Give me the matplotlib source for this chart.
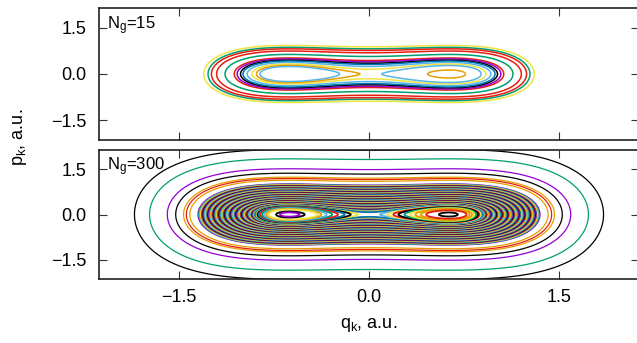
import numpy as np
import matplotlib
matplotlib.use("Agg")
import matplotlib.pyplot as plt

plt.rcParams['font.family'] = ['Liberation Sans', 'DejaVu Sans']
plt.rcParams['mathtext.fontset'] = 'custom'
plt.rcParams['mathtext.rm'] = 'Liberation Sans'
plt.rcParams['mathtext.it'] = 'Liberation Sans:italic'
plt.rcParams['contour.negative_linestyle'] = 'solid'

# gnuplot default line colours
PURPLE, TEAL, LBLUE, ORANGE = '#9400D3', '#009E73', '#56B4E9', '#E69F00'
YELLOW, BLUE, RED, BLACK = '#F0E442', '#0072B2', '#E51E10', '#000000'
CYCLE = [PURPLE, TEAL, LBLUE, ORANGE, YELLOW, BLUE, RED, BLACK]

# double-well model: minima at +-Q0, quartic strength B
Q0 = 0.63
B = 0.25

# ---- top panel, N_g = 15 (energy, colour, region) ----
top_energy = [0.385, 0.330, 0.290, 0.235, 0.160, 0.095, 0.078, 0.060,
              0.048, 0.030, 0.012, -0.001, -0.010, -0.002, -0.031]
top_color = [YELLOW, TEAL, RED, RED, TEAL, RED, PURPLE, BLACK,
             BLUE, LBLUE, YELLOW, ORANGE, LBLUE, LBLUE, ORANGE]
top_side = ['both', 'both', 'both', 'both', 'both', 'both', 'both', 'both',
            'both', 'both', 'both', 'L', 'L', 'R', 'R']

# ---- bottom panel, N_g = 300 ----
outer_energy = [2.25, 1.65, 1.10, 0.89, 0.72, 0.665, 0.60]
outer_color = [BLACK, TEAL, PURPLE, BLACK, ORANGE, RED, ORANGE]

band_energy = [0.462, 0.450, 0.441, 0.430, 0.422, 0.411, 0.404, 0.393,
               0.386, 0.376, 0.368, 0.359, 0.352, 0.342, 0.335, 0.327,
               0.320, 0.311, 0.303, 0.296, 0.288, 0.280, 0.273, 0.266,
               0.258, 0.251, 0.244, 0.237, 0.231, 0.224, 0.217, 0.210,
               0.204, 0.198, 0.191, 0.185, 0.179, 0.173, 0.167, 0.162,
               0.156, 0.150, 0.145, 0.140, 0.134, 0.129, 0.124, 0.119,
               0.114, 0.110, 0.105, 0.100, 0.096, 0.092, 0.087, 0.083,
               0.079, 0.075, 0.071, 0.068, 0.064, 0.060, 0.057, 0.054,
               0.050, 0.047, 0.044, 0.041, 0.038, 0.035, 0.032, 0.029,
               0.027, 0.024, 0.022, 0.020, 0.017, 0.015, 0.013, 0.011,
               0.0095, 0.008, 0.0065, 0.005, 0.0038, 0.003]

well_left_energy = [-0.0015, -0.004, -0.007, -0.011, -0.015, -0.019,
                    -0.023, -0.026, -0.0345, -0.037]
well_left_color = [YELLOW, BLACK, BLUE, RED, TEAL, LBLUE,
                   ORANGE, YELLOW, BLACK, PURPLE]
well_right_energy = [-0.0015, -0.004, -0.007, -0.010, -0.014, -0.018,
                     -0.022, -0.026, -0.030, -0.0372]
well_right_color = [LBLUE, YELLOW, RED, BLACK, TEAL, YELLOW,
                    ORANGE, ORANGE, RED, BLACK]

q = np.linspace(-2.3, 2.3, 1400)
p = np.linspace(-2.4, 2.4, 1100)
Q, P = np.meshgrid(q, p)
V = B * (Q**2 - Q0**2)**2 - B * Q0**4
H = 0.5 * P**2 + V
H_L = np.where(Q < 0, H, 10.0)
H_R = np.where(Q > 0, H, 10.0)
grids = {'both': H, 'L': H_L, 'R': H_R}

fig = plt.figure(figsize=(6.37, 3.43), dpi=100)
W, Hh = 637.0, 343.0
ax1 = fig.add_axes([99 / W, 1 - 140 / Hh, 540 / W, 132 / Hh])
ax2 = fig.add_axes([99 / W, 1 - 279 / Hh, 540 / W, 129 / Hh])


def draw(ax, grid, e, c, lw):
    ax.contour(Q, P, grid, levels=[e], colors=[c], linewidths=lw,
               linestyles='solid')


for e, c, s in zip(top_energy, top_color, top_side):
    draw(ax1, grids[s], e, c, 1.1)

for e, c in zip(outer_energy, outer_color):
    draw(ax2, H, e, c, 0.9)
for i, e in enumerate(band_energy):
    draw(ax2, H, e, CYCLE[i % 8], 1.3)
for e, c in zip(well_left_energy, well_left_color):
    draw(ax2, H_L, e, c, 1.3)
for e, c in zip(well_right_energy, well_right_color):
    draw(ax2, H_R, e, c, 1.3)

ticks = [-1.5, 0.0, 1.5]
labels = ['\u22121.5', '0.0', '1.5']
for ax in (ax1, ax2):
    ax.set_xlim(-2.13, 2.13)
    ax.set_ylim(-2.13, 2.13)
    ax.set_xticks(ticks)
    ax.set_yticks(ticks)
    ax.set_yticklabels(labels)
    ax.tick_params(direction='in', length=5.5, width=0.8, top=True, right=True,
                   labelsize=13, pad=9, colors='#333333', labelcolor='black')
    for sp in ax.spines.values():
        sp.set_linewidth(1.2)
        sp.set_color('#222222')
ax1.set_xticklabels([])
ax2.set_xticklabels(labels)
ax2.tick_params(axis='x', pad=7)

ax1.text(107 / W, 1 - 29 / Hh, r'N$_{\rm g}$=15', transform=fig.transFigure,
         fontsize=12, va='baseline', ha='left')
ax2.text(107 / W, 1 - 170 / Hh, r'N$_{\rm g}$=300', transform=fig.transFigure,
         fontsize=12, va='baseline', ha='left')

fig.text(20 / W, 1 - 137 / Hh, r'p$_{\rm k}$, a.u.', rotation=90,
         ha='center', va='center', fontsize=13)
fig.text(369 / W, 1 - 325 / Hh, r'q$_{\rm k}$, a.u.', ha='center',
         va='center', fontsize=13)

fig.savefig('out.png', dpi=100)
